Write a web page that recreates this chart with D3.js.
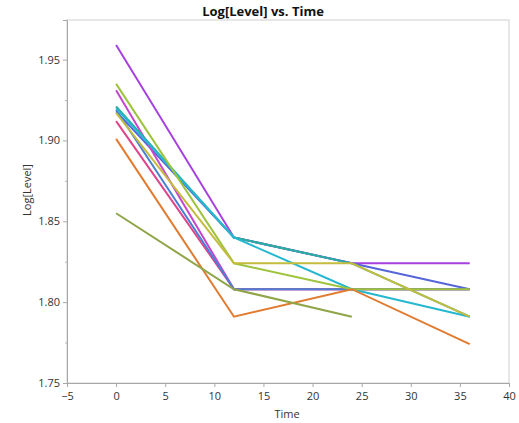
<!DOCTYPE html>
<html>
<head>
<meta charset="utf-8">
<script src="https://cdn.jsdelivr.net/npm/d3@7"></script>
<style>
  body { margin: 0; background: #fff; }
  text { font-family: "Segoe UI", "Open Sans", "Noto Sans", sans-serif; fill: #333; }
</style>
</head>
<body>
<div id="wrapper"></div>
<script>
// sampling times (months)
const times = [0, 12, 24, 36]

// one row of Log[Level] per batch, null = no reading
const batches = ["A", "B", "C", "D", "E", "F", "G", "H", "I", "J", "K"]
const batchColors = ["#a640e0", "#5566d8", "#c545cc", "#e0448c", "#4a80d2",
  "#2aae9e", "#26b8d0", "#9dc43c", "#c4bc3e", "#e07b30", "#8fa548"]
const levels = [
  [1.959, 1.840, 1.824, 1.824],
  [1.918, 1.840, 1.824, 1.808],
  [1.931, 1.808, 1.808, 1.808],
  [1.912, 1.808, 1.808, 1.808],
  [1.919, 1.808, 1.808, 1.808],
  [1.921, 1.840, 1.824, 1.791],
  [1.920, 1.840, 1.808, 1.791],
  [1.935, 1.824, 1.808, 1.808],
  [1.917, 1.824, 1.824, 1.791],
  [1.901, 1.791, 1.808, 1.774],
  [1.855, 1.808, 1.791, null],
]

const xTicks = [-5, 0, 5, 10, 15, 20, 25, 30, 35, 40]
const yTicks = [1.75, 1.80, 1.85, 1.90, 1.95]

/* dimensions */
const dimensions = {
  width: 519,
  height: 423,
  margin: { top: 20, right: 10, bottom: 40, left: 67 },
}
dimensions.boundedWidth = dimensions.width - dimensions.margin.left - dimensions.margin.right
dimensions.boundedHeight = dimensions.height - dimensions.margin.top - dimensions.margin.bottom

const svg = d3.select("#wrapper").append("svg")
  .attr("width", dimensions.width)
  .attr("height", dimensions.height)

const bounds = svg.append("g")
  .attr("transform", `translate(${dimensions.margin.left},${dimensions.margin.top})`)

/* scales */
const xScale = d3.scaleLinear()
  .domain([-5, 40])
  .range([0, dimensions.boundedWidth])

const yScale = d3.scaleLinear()
  .domain([1.75, 1.9745])
  .range([dimensions.boundedHeight, 0])

// frame
bounds.append("rect")
  .attr("width", dimensions.boundedWidth)
  .attr("height", dimensions.boundedHeight)
  .attr("fill", "none")
  .attr("stroke", "#cfcfcf")

/* lines */
const lineGenerator = d3.line()
  .defined(d => d.v != null)
  .x(d => xScale(d.t))
  .y(d => yScale(d.v))

bounds.append("g")
  .selectAll("path")
  .data(levels)
  .join("path")
    .attr("d", row => lineGenerator(row.map((v, i) => ({ t: times[i], v: v }))))
    .attr("fill", "none")
    .attr("stroke", (row, i) => batchColors[i])
    .attr("stroke-width", 2)

/* axes */
const xAxis = bounds.append("g")
  .attr("transform", `translate(0,${dimensions.boundedHeight})`)
  .call(d3.axisBottom(xScale).tickValues(xTicks).tickSize(4).tickPadding(5))
xAxis.select(".domain").attr("stroke", "#a8a8a8")
xAxis.selectAll(".tick line").attr("stroke", "#a8a8a8")
xAxis.selectAll("text").style("font-size", "11px")

// minor y ticks between the labelled ones
const yMinor = yTicks.slice(0, -1).map(v => v + 0.025)
bounds.append("g")
  .call(d3.axisLeft(yScale).tickValues(yMinor).tickSize(2).tickFormat(""))
  .call(g => g.select(".domain").remove())
  .selectAll(".tick line").attr("stroke", "#b8b8b8")

const yAxis = bounds.append("g")
  .call(d3.axisLeft(yScale).tickValues(yTicks).tickSize(4).tickPadding(3).tickFormat(d3.format(".2f")))
yAxis.select(".domain").attr("stroke", "#a8a8a8")
yAxis.selectAll(".tick line").attr("stroke", "#a8a8a8")
yAxis.selectAll("text").style("font-size", "11px")

/* labels */
svg.append("text")
  .attr("x", 263)
  .attr("y", 16)
  .attr("text-anchor", "middle")
  .style("font-size", "13px")
  .style("font-weight", "bold")
  .style("fill", "#111")
  .text("Log[Level] vs. Time")

svg.append("text")
  .attr("x", 287)
  .attr("y", 418)
  .attr("text-anchor", "middle")
  .style("font-size", "11px")
  .text("Time")

svg.append("text")
  .attr("transform", `translate(31,${dimensions.margin.top + 170}) rotate(-90)`)
  .attr("text-anchor", "middle")
  .style("font-size", "11px")
  .text("Log[Level]")
</script>
</body>
</html>
